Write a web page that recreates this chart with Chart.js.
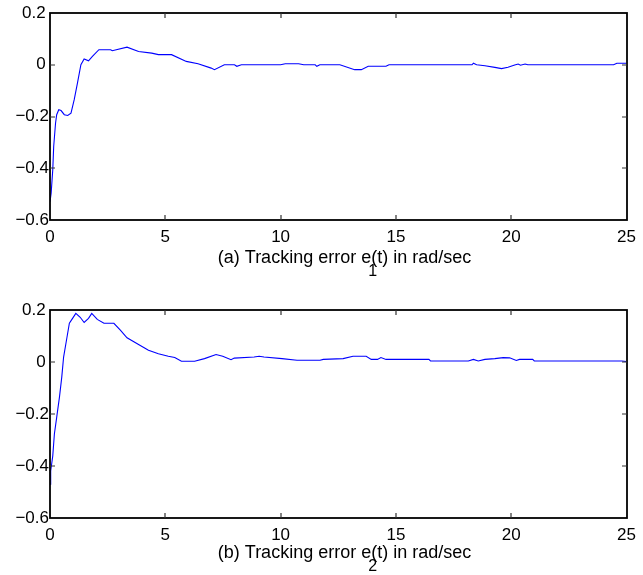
<!DOCTYPE html>
<html>
<head>
<meta charset="utf-8">
<script src="https://cdn.jsdelivr.net/npm/chart.js@4.4.1/dist/chart.umd.min.js"></script>
<style>
  html, body { margin: 0; padding: 0; background: #fff; }
  #wrap { position: relative; width: 643px; height: 575px; }
  .box { position: absolute; left: 0; width: 643px; }
</style>
</head>
<body>
<div id="wrap">
  <div class="box" id="b1" style="top:0px;height:287px;"><canvas id="c1"></canvas></div>
  <div class="box" id="b2" style="top:287px;height:288px;"><canvas id="c2"></canvas></div>
</div>
<script>
// ---- data ----
const xTicks = [0, 5, 10, 15, 20, 25];
const yTicks = [-0.6, -0.4, -0.2, 0, 0.2];

const e1Time = [0, 0.05, 0.12, 0.16, 0.24, 0.29, 0.38, 0.48, 0.62, 0.77, 0.91, 1.05, 1.19, 1.34, 1.48, 1.67, 1.84, 2.12, 2.63, 2.7, 3.34, 3.84, 4.41, 4.7, 5.27, 5.91, 6.42, 6.99, 7.13, 7.56, 8.0, 8.1, 8.3, 10.0, 10.2, 10.78, 11.0, 11.5, 11.57, 11.7, 12.57, 13.21, 13.5, 13.8, 14.57, 14.7, 18.3, 18.36, 18.5, 18.86, 19.29, 19.58, 19.86, 20.15, 20.3, 20.4, 20.6, 20.72, 24.44, 24.58, 25];
const e1Values = [-0.529, -0.496, -0.406, -0.316, -0.226, -0.193, -0.174, -0.177, -0.193, -0.196, -0.187, -0.135, -0.071, 0.0, 0.022, 0.015, 0.032, 0.058, 0.058, 0.054, 0.068, 0.051, 0.045, 0.039, 0.039, 0.013, 0.004, -0.013, -0.019, 0, 0, -0.006, 0, 0, 0.004, 0.004, 0, 0, -0.006, 0, 0, -0.019, -0.019, -0.006, -0.006, 0, 0, 0.006, 0, -0.004, -0.01, -0.015, -0.01, -0.001, 0.003, -0.002, 0.003, 0, 0, 0.006, 0.006];

const e2Time = [0, 0.03, 0.12, 0.19, 0.29, 0.41, 0.51, 0.59, 0.74, 0.84, 0.95, 1.12, 1.31, 1.48, 1.67, 1.81, 2.05, 2.34, 2.77, 3.05, 3.34, 3.84, 4.27, 4.7, 5.13, 5.41, 5.7, 6.27, 6.7, 7.2, 7.49, 7.85, 7.99, 8.85, 9.07, 9.28, 10.06, 10.71, 11.71, 11.85, 12.71, 13.14, 13.71, 13.93, 14.2, 14.35, 14.57, 16.43, 16.5, 18.14, 18.36, 18.57, 18.86, 19.29, 19.65, 19.93, 20.22, 20.36, 20.93, 21.0, 24.8, 25];
const e2Values = [-0.47, -0.419, -0.361, -0.277, -0.213, -0.135, -0.058, 0.019, 0.097, 0.149, 0.164, 0.187, 0.172, 0.152, 0.168, 0.187, 0.164, 0.149, 0.149, 0.123, 0.093, 0.067, 0.045, 0.032, 0.022, 0.017, 0.003, 0.003, 0.013, 0.029, 0.022, 0.009, 0.015, 0.019, 0.022, 0.019, 0.013, 0.007, 0.007, 0.01, 0.013, 0.022, 0.022, 0.01, 0.01, 0.017, 0.01, 0.01, 0.004, 0.004, 0.01, 0.004, 0.01, 0.013, 0.017, 0.016, 0.006, 0.01, 0.01, 0.004, 0.004, 0.002];

const titleA = { pre: '(a) Tracking error e', sub: '1', post: '(t) in rad/sec' };
const titleB = { pre: '(b) Tracking error e', sub: '2', post: '(t) in rad/sec' };

// ---- rendering ----
const FONT = '"Liberation Sans", Arial, Helvetica, sans-serif';
const FSIZE = 17;
const TSIZE = 18;

function fmtX(v) {
  return String(Math.round(v));
}
function fmtY(v) {
  if (Math.abs(v) < 1e-9) return '0\u2009';
  const s = (Math.round(v * 10) / 10).toString();
  return v < 0 ? s.replace('-', '\u2212') : s + '\u2009';
}

const boxPlugin = {
  id: 'matlabBox',
  afterDatasetsDraw(chart, args, opts) {
    const { ctx, chartArea: a, scales } = chart;
    const L = Math.round(a.left), R = Math.round(a.right), T = Math.round(a.top), B = Math.round(a.bottom);
    ctx.save();
    ctx.strokeStyle = '#000';
    ctx.lineWidth = 1.8;
    ctx.strokeRect(L, T, R - L, B - T);
    ctx.lineWidth = 1.2;
    ctx.strokeStyle = '#333';
    const tl = 5;
    ctx.beginPath();
    xTicks.forEach(v => {
      const x = Math.round(scales.x.getPixelForValue(v));
      if (x <= L + 1 || x >= R - 1) return;
      ctx.moveTo(x, B); ctx.lineTo(x, B - tl);
      ctx.moveTo(x, T); ctx.lineTo(x, T + tl);
    });
    yTicks.forEach(v => {
      const y = Math.round(scales.y.getPixelForValue(v));
      if (y <= T + 1 || y >= B - 1) return;
      ctx.moveTo(L, y); ctx.lineTo(L + tl, y);
      ctx.moveTo(R, y); ctx.lineTo(R - tl, y);
    });
    ctx.stroke();
    // caption with subscript
    const t = opts.title;
    ctx.fillStyle = '#000';
    ctx.textBaseline = 'alphabetic';
    ctx.textAlign = 'left';
    ctx.font = TSIZE + 'px ' + FONT;
    const w1 = ctx.measureText(t.pre).width;
    const w2 = ctx.measureText(t.post).width;
    const cx = (L + R) / 2 + 6;
    const x0 = cx - (w1 + w2) / 2;
    const ty = B + opts.titleBase;
    ctx.fillText(t.pre, x0, ty);
    ctx.fillText(t.post, x0 + w1, ty);
    ctx.font = '16px ' + FONT;
    ctx.fillText(t.sub, x0 + w1 - 3, ty + 13);
    ctx.restore();
  }
};

function makeChart(id, times, values, title, padTop, axisH, titleBase) {
  const pts = times.map((t, i) => ({ x: t, y: values[i] }));
  return new Chart(document.getElementById(id), {
    type: 'line',
    data: {
      datasets: [{
        data: pts,
        borderColor: '#0000ff',
        borderWidth: 1.1,
        pointRadius: 0,
        tension: 0,
        fill: false
      }]
    },
    options: {
      responsive: true,
      maintainAspectRatio: false,
      animation: false,
      events: [],
      layout: { padding: { left: 0, right: 13, top: padTop, bottom: 0 } },
      plugins: {
        legend: { display: false },
        tooltip: { enabled: false },
        matlabBox: { title: title, titleBase: titleBase }
      },
      scales: {
        x: {
          type: 'linear',
          min: 0, max: 25,
          afterBuildTicks(s) { s.ticks = xTicks.map(v => ({ value: v })); },
          afterFit(s) { s.height = axisH; },
          grid: { display: false, drawTicks: false },
          border: { display: false },
          ticks: { color: '#000', font: { family: FONT, size: FSIZE }, padding: 7, maxRotation: 0, callback: v => fmtX(v) }
        },
        y: {
          type: 'linear',
          min: -0.6, max: 0.2,
          afterBuildTicks(s) { s.ticks = yTicks.map(v => ({ value: v })); },
          afterFit(s) { s.width = 50; },
          grid: { display: false, drawTicks: false },
          border: { display: false },
          ticks: { color: '#000', font: { family: FONT, size: FSIZE }, padding: 1, callback: v => fmtY(v) }
        }
      }
    },
    plugins: [boxPlugin]
  });
}

makeChart('c1', e1Time, e1Values, titleA, 13, 67, 43);
makeChart('c2', e2Time, e2Values, titleB, 23, 57, 40);
</script>
</body>
</html>
